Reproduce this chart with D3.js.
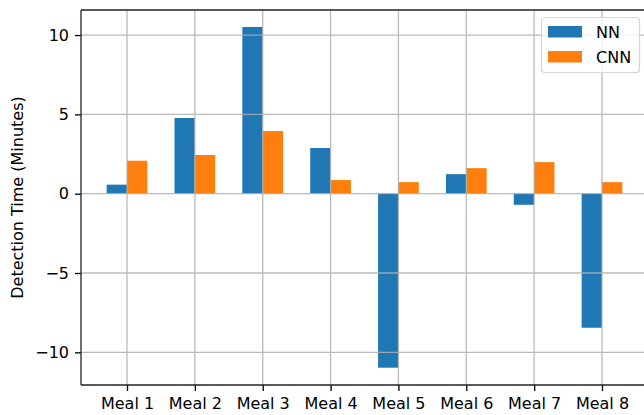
<!DOCTYPE html>
<html>
<head>
<meta charset="utf-8">
<script src="https://cdn.jsdelivr.net/npm/d3@7"></script>
<style>
  html, body { margin: 0; padding: 0; background: #fff; }
  svg { display: block; font-family: "DejaVu Sans", sans-serif; }
</style>
</head>
<body>
<svg id="chart" width="644" height="415"></svg>
<script>
// Detection time per meal for the two models
const meals = ["Meal 1", "Meal 2", "Meal 3", "Meal 4", "Meal 5", "Meal 6", "Meal 7", "Meal 8"];
const nnValues = [0.57, 4.77, 10.51, 2.88, -10.97, 1.23, -0.70, -8.45];
const cnnValues = [2.08, 2.44, 3.95, 0.86, 0.73, 1.61, 1.99, 0.73];
const seriesNames = ["NN", "CNN"];
const seriesColors = ["#1f77b4", "#ff7f0e"];
const yTicks = [-10, -5, 0, 5, 10];
const yLabel = "Detection Time (Minutes)";

const svg = d3.select("#chart");
const plotLeft = 81, plotTop = 10, plotBottom = 385, plotRight = 648;
const barWidth = 0.3;

const x = d3.scaleLinear().domain([-0.678, meals.length - 1 + 0.678]).range([plotLeft, plotRight]);
const y = d3.scaleLinear().domain([-12.06, 11.58]).range([plotBottom, plotTop]);

const fmt = v => (v < 0 ? "\u2212" + Math.abs(v) : String(v));

// bars: NN sits left of the category centre, CNN right of it
const bars = svg.append("g");
meals.forEach((m, i) => {
  [nnValues[i], cnnValues[i]].forEach((v, s) => {
    const x0 = s === 0 ? x(i - barWidth) : x(i);
    const x1 = s === 0 ? x(i) : x(i + barWidth);
    bars.append("rect")
      .attr("x", x0)
      .attr("width", x1 - x0)
      .attr("y", Math.min(y(v), y(0)))
      .attr("height", Math.abs(y(v) - y(0)))
      .attr("fill", seriesColors[s]);
  });
});

// grid drawn over the bars
const grid = svg.append("g").attr("stroke", "#b0b0b0").attr("stroke-width", 1.3).attr("opacity", 0.85);
meals.forEach((m, i) => {
  grid.append("line").attr("x1", x(i)).attr("x2", x(i)).attr("y1", plotTop).attr("y2", plotBottom);
});
yTicks.forEach(t => {
  grid.append("line").attr("x1", plotLeft).attr("x2", 644).attr("y1", y(t)).attr("y2", y(t));
});

// axes
const xAxis = d3.axisBottom(x).tickValues(d3.range(meals.length)).tickFormat(i => meals[i])
  .tickSizeInner(6).tickSizeOuter(0).tickPadding(7);
const gx = svg.append("g").attr("transform", `translate(0,${plotBottom})`).call(xAxis);
gx.select(".domain").remove();
gx.selectAll("line").attr("stroke", "#000").attr("stroke-width", 1.3);
gx.selectAll("text").attr("font-size", 16).attr("fill", "#000").attr("font-family", "DejaVu Sans");

const yAxis = d3.axisLeft(y).tickValues(yTicks).tickFormat(fmt)
  .tickSizeInner(6).tickSizeOuter(0).tickPadding(6);
const gy = svg.append("g").attr("transform", `translate(${plotLeft},0)`).call(yAxis);
gy.select(".domain").remove();
gy.selectAll("line").attr("stroke", "#000").attr("stroke-width", 1.3);
gy.selectAll("text").attr("font-size", 16).attr("fill", "#000").attr("font-family", "DejaVu Sans");

// spines
const spines = svg.append("g").attr("stroke", "#222").attr("stroke-width", 1.3);
spines.append("line").attr("x1", plotLeft).attr("x2", plotLeft).attr("y1", plotTop).attr("y2", plotBottom);
spines.append("line").attr("x1", plotLeft).attr("x2", 644).attr("y1", plotBottom).attr("y2", plotBottom);
spines.append("line").attr("x1", plotLeft).attr("x2", 644).attr("y1", plotTop).attr("y2", plotTop);

// y label
svg.append("text")
  .attr("transform", `translate(23,${(plotTop + plotBottom) / 2}) rotate(-90)`)
  .attr("text-anchor", "middle")
  .attr("font-size", 16)
  .attr("fill", "#000")
  .text(yLabel);

// legend
const lg = svg.append("g").attr("transform", "translate(541,17)");
lg.append("rect").attr("x", 0.5).attr("y", 0.5).attr("width", 98).attr("height", 55).attr("rx", 3)
  .attr("fill", "#fff").attr("fill-opacity", 0.8).attr("stroke", "#d6d6d6").attr("stroke-width", 1.2);
seriesNames.forEach((n, k) => {
  lg.append("rect").attr("x", 7).attr("y", 9 + k * 25).attr("width", 34).attr("height", 11.5).attr("fill", seriesColors[k]);
  lg.append("text").attr("x", 55).attr("y", 20.5 + k * 25).attr("font-size", 16).attr("fill", "#000").text(n);
});
</script>
</body>
</html>
